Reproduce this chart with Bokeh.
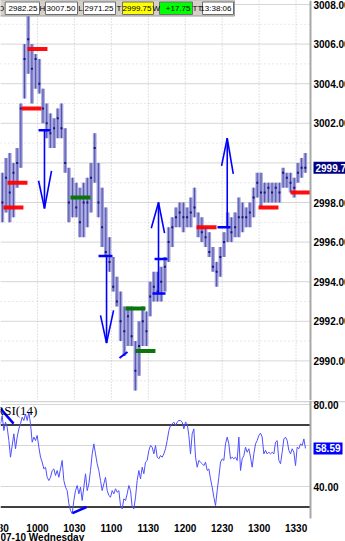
from bokeh.plotting import figure
from bokeh.models import Range1d, Span, Label
from bokeh.layouts import column
from bokeh.core.properties import value
from bokeh.embed import file_html
from bokeh.resources import INLINE

# ---------------- data ----------------
# 3-minute bars, session 07-10; time = minutes after 9:30 (bar centre)
bar_high = [
    2999.5, 3000.25, 3000.5, 3000.0, 3000.75, 3003.0, 3006.0, 3007.5, 3006.0, 3005.5,
    3005.25, 3003.75, 3003.0, 3002.5, 3002.25, 3002.75, 3003.0, 3001.75, 2999.75, 2999.25,
    2999.0, 2998.75, 2999.0, 2999.25, 3000.0, 3001.5, 3000.0, 2998.75, 2997.75, 2996.25,
    2995.25, 2994.25, 2993.5, 2992.75, 2992.75, 2992.75, 2991.0, 2992.0, 2992.75, 2992.5,
    2994.0, 2994.5, 2994.5, 2994.75, 2995.25, 2996.75, 2997.25, 2997.75, 2998.0, 2998.0,
    2997.75, 2998.25, 2998.75, 2997.5, 2997.25, 2996.75, 2996.5, 2995.75, 2995.0, 2995.75,
    2996.5, 2997.5, 2997.25, 2997.5, 2998.25, 2998.0, 2997.75, 2998.0, 2998.75, 2999.5,
    2999.5, 2999.0, 2999.0, 2999.0, 2999.0, 2999.0, 2999.75, 2999.5, 2999.5, 2999.25,
    3000.0, 3000.25, 3000.5]
bar_low = [
    2997.0, 2997.5, 2997.0, 2997.25, 2998.75, 2999.75, 3003.25, 3004.5, 3003.0, 3003.75,
    3003.5, 3002.0, 3001.25, 3000.75, 3000.75, 3001.25, 3001.25, 2999.5, 2997.0, 2997.25,
    2997.25, 2996.25, 2996.25, 2996.75, 2997.5, 2999.0, 2997.25, 2995.75, 2995.25, 2994.5,
    2993.5, 2992.75, 2991.0, 2990.25, 2990.75, 2990.75, 2988.5, 2989.25, 2990.75, 2990.75,
    2992.25, 2993.0, 2993.0, 2993.0, 2993.5, 2995.0, 2995.75, 2996.75, 2996.75, 2996.5,
    2996.75, 2996.75, 2997.25, 2996.25, 2996.0, 2995.75, 2995.25, 2994.5, 2993.75, 2994.25,
    2995.25, 2996.0, 2996.0, 2996.25, 2996.25, 2996.5, 2996.75, 2996.75, 2997.25, 2998.25,
    2997.75, 2998.0, 2998.0, 2998.0, 2998.0, 2998.0, 2998.75, 2998.75, 2998.5, 2998.25,
    2999.0, 2999.25, 2999.5]
bar_close = [
    2998.0, 2999.25, 2998.5, 2999.5, 3000.0, 3002.75, 3005.25, 3006.25, 3004.75, 3005.25,
    3004.0, 3002.75, 3002.0, 3001.5, 3001.75, 3002.25, 3001.75, 3000.0, 2998.0, 2998.25,
    2997.75, 2997.0, 2998.0, 2998.0, 2999.25, 3000.75, 2998.0, 2996.75, 2995.5, 2995.0,
    2993.75, 2993.0, 2992.0, 2991.5, 2992.25, 2991.25, 2989.5, 2990.75, 2992.0, 2991.5,
    2993.25, 2993.75, 2993.5, 2994.0, 2994.75, 2996.0, 2996.75, 2997.25, 2997.5, 2997.25,
    2997.25, 2997.5, 2997.75, 2996.75, 2996.5, 2996.25, 2995.5, 2994.75, 2994.5, 2995.25,
    2996.0, 2996.75, 2996.5, 2996.75, 2997.25, 2997.25, 2997.25, 2997.5, 2998.25, 2999.0,
    2998.5, 2998.5, 2998.75, 2998.5, 2998.75, 2998.5, 2999.5, 2999.25, 2999.0, 2998.75,
    2999.5, 2999.75, 2999.75]
BAR_MIN = 3
bar_time = [BAR_MIN * i + BAR_MIN / 2 for i in range(len(bar_high))]

# RSI(14), sampled every ~81 s
rsi_values = [
    70.6, 74.6, 67.3, 71.4, 68.9, 62.4, 54.3, 60.0, 65.7, 58.4,
    64.1, 68.1, 70.6, 73.8, 72.2, 75.4, 72.2, 76.3, 70.6, 61.6,
    64.1, 62.4, 64.9, 59.2, 54.3, 51.9, 48.6, 49.4, 44.5, 42.9,
    44.5, 47.8, 48.6, 45.4, 47.8, 44.5, 48.6, 52.7, 42.9, 39.7,
    38.0, 31.6, 28.3, 26.7, 33.2, 38.0, 40.5, 36.4, 39.7, 33.2,
    39.7, 46.2, 38.0, 41.3, 47.8, 55.9, 60.8, 55.9, 51.1, 47.8,
    42.9, 38.0, 41.3, 44.5, 38.0, 35.6, 34.8, 38.0, 36.4, 38.9,
    37.2, 38.0, 30.7, 29.1, 34.0, 33.2, 36.4, 40.5, 38.0, 29.9,
    29.1, 34.8, 42.9, 47.8, 43.7, 49.4, 46.2, 51.9, 52.7, 57.6,
    60.0, 59.2, 55.9, 60.0, 54.3, 53.5, 55.1, 54.3, 55.9, 58.4,
    62.4, 67.3, 69.8, 70.6, 71.4, 69.8, 71.4, 72.2, 72.2, 71.4,
    68.1, 71.4, 70.6, 64.9, 55.9, 65.7, 68.1, 54.3, 49.4, 52.7,
    51.9, 51.1, 50.2, 51.9, 47.8, 48.6, 43.7, 39.7, 34.8, 30.7,
    38.0, 44.5, 51.9, 53.5, 52.7, 60.8, 64.1, 60.8, 53.5, 54.3,
    53.5, 54.3, 52.7, 64.1, 47.8, 53.5, 55.1, 59.2, 56.7, 58.4,
    54.3, 49.4, 55.9, 60.8, 62.4, 64.9, 66.0, 64.1, 55.9, 57.6,
    55.9, 56.7, 55.9, 56.7, 55.9, 61.6, 62.4, 52.7, 51.1, 56.7,
    63.2, 64.1, 62.4, 57.6, 55.9, 58.4, 56.7, 50.2, 59.2, 58.4,
    60.8, 60.0, 63.2, 58.59]
RSI_STEP = 1.3534
rsi_time = [RSI_STEP * i for i in range(len(rsi_values))]
rsi_trend_t0 = [0.0, 58.5]
rsi_trend_t1 = [10.6, 69.8]
rsi_trend_v0 = [78.0, 27.0]
rsi_trend_v1 = [70.7, 30.0]

# level marks
red_start = [2.4, 5.7, 17.1, 21.9, 159.2, 209.5, 235.5]
red_level = [2997.75, 2999.0, 3002.75, 3005.75, 2996.75, 2997.75, 2998.5]
green_start = [56.8, 101.5, 109.6]
green_level = [2998.25, 2992.65, 2990.5]
MARK_LEN = 16.2

# signal arrows
arrow_time = [35.7, 86.1, 128.3, 184.1]
arrow_entry = [3001.65, 2995.3, 2993.4, 2996.75]
arrow_target = [2997.7, 2990.9, 2998.0, 3001.25]
head_l_time = [30.9, 81.2, 122.4, 179.5]
head_l_price = [2999.1, 2992.3, 2996.7, 2999.85]
head_r_time = [41.4, 91.8, 133.2, 189.0]
head_r_price = [2999.6, 2992.55, 2996.45, 2999.45]
entry_t0 = [30.9, 79.6, 125.1, 123.4, 176.2]
entry_t1 = [40.6, 90.9, 135.6, 134.0, 186.8]
entry_price = [3001.65, 2995.3, 2995.15, 2993.4, 2996.75]
diag_t = [96.6, 103.1]
diag_p = [2990.15, 2990.45]

# quote header
quote_names = ["O", "H", "L", "T", "W", "TT"]
quote_values = ["2982.25", "3007.50", "2971.25", "2999.75", "+17.75", "13:38:06"]
last_price = 2999.75
last_rsi = 58.59

price_ticks = [2990, 2992, 2994, 2996, 2998, 3002, 3004, 3006, 3008]
price_grid_major = [2990, 2992, 2994, 2996, 2998, 3000, 3002, 3004, 3006, 3008]
price_grid_minor = [2989, 2991, 2993, 2995, 2997, 2999, 3001, 3003, 3005, 3007]
rsi_ticks = [40, 80]
rsi_grid = [40, 60, 80]
rsi_bands = [30, 70]
time_ticks = [0, 30, 60, 90, 120, 150, 180, 210, 240]
time_labels = ["930", "1000", "1030", "1100", "1130", "1200", "1230", "1300", "1330"]
session_label = "07-10 Wednesday"

# ---------------- layout constants ----------------
W = 345
PX_PER_MIN = 1.2315
X_START = -0.01
X_END = X_START + W / PX_PER_MIN
AXIS_T = X_START + 310 / PX_PER_MIN
PX_PER_PT = 19.8
P_TOP = 3008 + 4 / PX_PER_PT
P_BOT = 3008 - 396 / PX_PER_PT
PX_PER_RSI = 2.05
R_TOP = 80 + 4 / PX_PER_RSI          # top of the RSI panel
R_BOT = 80 - 114 / PX_PER_RSI        # bottom of the RSI plotting area
R_CANVAS_BOT = 80 - 137 / PX_PER_RSI  # bottom of the canvas (label strip included)
R_TIME_LABEL = 80 - 123 / PX_PER_RSI
R_SESSION_LABEL = 80 - 133 / PX_PER_RSI

SANS_NAME = "Liberation Sans"
SANS = value(SANS_NAME)
LABEL_SIZE = "10px"


def hx(px):
    return X_START + px / PX_PER_MIN


def hy(py):
    return P_TOP - py / PX_PER_PT


# ---------------- price panel ----------------
p1 = figure(width=W, height=400, x_range=Range1d(X_START, X_END), y_range=Range1d(P_BOT, P_TOP),
            output_backend="svg", toolbar_location=None, x_axis_location=None,
            y_axis_location=None, min_border=0, outline_line_color=None)
p1.grid.visible = False

p1.segment(x0=X_START, x1=AXIS_T, y0=price_grid_major, y1=price_grid_major,
           line_color="#d6d6d6", line_width=1)
p1.segment(x0=X_START, x1=AXIS_T, y0=price_grid_minor, y1=price_grid_minor,
           line_color="#d0d0d0", line_width=1, line_dash="1 3")
p1.segment(x0=time_ticks[1:], x1=time_ticks[1:], y0=P_BOT, y1=P_TOP,
           line_color="#c4c4c4", line_width=1, line_dash="1 2")

p1.vbar(x=bar_time, top=bar_high, bottom=bar_low, width=3.0,
        fill_color="#9090d6", fill_alpha=0.85, line_color=None)
p1.segment(x0=bar_time, x1=bar_time, y0=bar_low, y1=bar_high,
           line_color="#5151ad", line_width=1)
p1.rect(x=bar_time, y=bar_close, width=2, height=2, width_units="screen",
        height_units="screen", fill_color="#14147a", line_color=None)

p1.segment(x0=red_start, x1=[s + MARK_LEN for s in red_start], y0=red_level, y1=red_level,
           line_color="#ff0000", line_width=4, line_alpha=0.95)
p1.segment(x0=green_start, x1=[s + MARK_LEN for s in green_start], y0=green_level,
           y1=green_level, line_color="#0a760a", line_width=4)

BLUE = "#0000ff"
p1.segment(x0=arrow_time, x1=arrow_time, y0=arrow_entry, y1=arrow_target,
           line_color=BLUE, line_width=1.6)
p1.segment(x0=head_l_time, x1=arrow_time, y0=head_l_price, y1=arrow_target,
           line_color=BLUE, line_width=1.6)
p1.segment(x0=head_r_time, x1=arrow_time, y0=head_r_price, y1=arrow_target,
           line_color=BLUE, line_width=1.6)
p1.segment(x0=entry_t0, x1=entry_t1, y0=entry_price, y1=entry_price,
           line_color=BLUE, line_width=2.5)
p1.line(x=diag_t, y=diag_p, line_color=BLUE, line_width=2)

p1.add_layout(Span(location=AXIS_T, dimension="height", line_color="#a8a8a8", line_width=2))
p1.text(x=AXIS_T, y=price_ticks, text=[f"{v:.2f}" for v in price_ticks], x_offset=3,
        text_baseline="middle", text_align="left", text_font=SANS, text_font_style="bold",
        text_font_size=LABEL_SIZE, text_color="black")
p1.add_layout(Label(x=AXIS_T, y=last_price, text=f"{last_price:.2f}", x_offset=3,
                    text_baseline="middle", text_align="left", text_font=SANS_NAME,
                    text_font_style="bold", text_font_size=LABEL_SIZE, text_color="white",
                    background_fill_color="#000080", padding=2))

# quote header
cell_x0 = [4.7, 45, 83, 122, 159, 202]
cell_x1 = [39, 77, 115, 153, 192, 233]
name_cx = [0.5, 42, 80, 118.5, 155.8, 197]
cell_fill = ["white", "white", "white", "#ffff00", "#00ff00", "white"]
p1.quad(left=hx(-4), right=hx(234), top=hy(0), bottom=hy(15.5),
        fill_color="#d4d0c8", line_color="#9a9a9a", line_width=1)
p1.quad(left=[hx(v) for v in cell_x0], right=[hx(v) for v in cell_x1], top=hy(1.5),
        bottom=hy(14), fill_color=cell_fill, line_color="#6e6e6e", line_width=1)
p1.text(x=[hx(v) for v in name_cx], y=hy(8), text=quote_names, text_align="center",
        text_baseline="middle", text_font=SANS, text_font_size="8px", text_color="black")
p1.text(x=[hx(v) for v in cell_x1], y=hy(8), text=quote_values, x_offset=-2,
        text_align="right", text_baseline="middle", text_font=SANS,
        text_font_size="8px", text_color="black")

# ---------------- RSI panel (with time-label strip) ----------------
p2 = figure(width=W, height=141, x_range=p1.x_range, y_range=Range1d(R_CANVAS_BOT, R_TOP),
            output_backend="svg", toolbar_location=None, y_axis_location=None,
            x_axis_location=None, min_border=0, outline_line_color=None)
p2.grid.visible = False

p2.segment(x0=X_START, x1=X_END, y0=R_TOP - 0.6, y1=R_TOP - 0.6,
           line_color="#c8c8c8", line_width=1)
p2.segment(x0=X_START, x1=AXIS_T, y0=rsi_grid, y1=rsi_grid, line_color="#d6d6d6", line_width=1)
p2.segment(x0=X_START, x1=AXIS_T, y0=rsi_bands, y1=rsi_bands, line_color="black", line_width=1.5)
p2.line(x=rsi_time, y=rsi_values, line_color="#5050ff", line_width=1)
p2.segment(x0=rsi_trend_t0, x1=rsi_trend_t1, y0=rsi_trend_v0, y1=rsi_trend_v1,
           line_color=BLUE, line_width=2.5)
p2.segment(x0=AXIS_T, x1=AXIS_T, y0=R_BOT, y1=R_TOP, line_color="#a8a8a8", line_width=2)
p2.text(x=AXIS_T, y=rsi_ticks, text=[f"{v:.2f}" for v in rsi_ticks], x_offset=3,
        text_baseline="middle", text_align="left", text_font=SANS, text_font_style="bold",
        text_font_size=LABEL_SIZE, text_color="black")
p2.add_layout(Label(x=AXIS_T, y=last_rsi, text=f"{last_rsi:.2f}", x_offset=3,
                    text_baseline="middle", text_align="left", text_font=SANS_NAME,
                    text_font_style="bold", text_font_size=LABEL_SIZE, text_color="white",
                    background_fill_color="#0000ff", padding=2))
p2.text(x=X_START, y=77.1, x_offset=-5, text=["RSI(14)"], text_baseline="middle",
        text_align="left", text_font=value("Liberation Serif"), text_font_size="13px",
        text_color="black")
p2.text(x=time_ticks, y=R_TIME_LABEL, text=time_labels, text_align="center",
        text_baseline="middle", text_font=SANS, text_font_style="bold",
        text_font_size=LABEL_SIZE, text_color="black")
p2.text(x=X_START, y=R_SESSION_LABEL, text=[session_label], text_align="left",
        text_baseline="middle", text_font=SANS, text_font_style="bold",
        text_font_size=LABEL_SIZE, text_color="black")

layout = column(p1, p2, spacing=0)
open("out.html", "w").write(file_html(layout, INLINE))
